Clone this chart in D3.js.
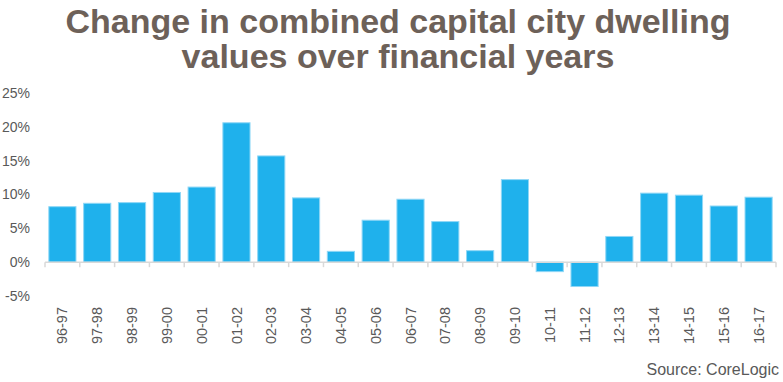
<!DOCTYPE html>
<html>
<head>
<meta charset="utf-8">
<script src="https://cdn.jsdelivr.net/npm/d3@7"></script>
<style>
  body { margin: 0; background: #fff; }
  svg { display: block; font-family: "Liberation Sans", Arial, sans-serif; }
</style>
</head>
<body>
<svg id="chart" width="783" height="382"></svg>
<script>
// financial years and annual change (%) in combined capital city dwelling values
const years = ["96-97", "97-98", "98-99", "99-00", "00-01", "01-02", "02-03", "03-04",
  "04-05", "05-06", "06-07", "07-08", "08-09", "09-10", "10-11", "11-12",
  "12-13", "13-14", "14-15", "15-16", "16-17"];
const changes = [8.2, 8.7, 8.8, 10.3, 11.1, 20.6, 15.7, 9.5,
  1.6, 6.2, 9.3, 6.0, 1.7, 12.2, -1.4, -3.6,
  3.8, 10.2, 9.9, 8.3, 9.6];
const yTicks = [-5, 0, 5, 10, 15, 20, 25];
const titleLines = ["Change in combined capital city dwelling", "values over financial years"];

const svg = d3.select("#chart");

// scales
let x = d3.scaleBand().domain(years).range([45, 776]).paddingInner(0.22).paddingOuter(0.11);
let y = d3.scaleLinear().domain([-5, 25]).range([296, 93]);

// title
svg.append("g").selectAll("text").data(titleLines).enter().append("text")
  .attr("x", 398)
  .attr("y", (d, i) => 33 + i * 35)
  .attr("text-anchor", "middle")
  .style("font-size", "34px")
  .style("font-weight", "bold")
  .style("fill", "#6d6159")
  .text(d => d);

// y axis labels only, no line
let yAxis = d3.axisLeft(y).tickValues(yTicks).tickSize(0).tickPadding(0)
  .tickFormat(d => d + "%");
let yG = svg.append("g").attr("transform", "translate(30,0)").call(yAxis);
yG.select(".domain").remove();
yG.selectAll("text").style("font-size", "14px").style("fill", "#595959")
  .style("font-family", "'Liberation Sans', Arial, sans-serif");

// bars
svg.append("g").selectAll("rect").data(changes).enter().append("rect")
  .attr("x", (d, i) => x(years[i]))
  .attr("width", x.bandwidth())
  .attr("y", d => y(Math.max(0, d)))
  .attr("height", d => Math.abs(y(d) - y(0)))
  .attr("fill", "#1fb1ec")
  .attr("stroke", "#8fd7f6")
  .attr("stroke-width", 1);

// category axis at zero, ticks at band boundaries
let step = x.step();
let zero = y(0);
let axisG = svg.append("g");
axisG.append("line")
  .attr("x1", 45).attr("x2", 776)
  .attr("y1", zero).attr("y2", zero)
  .attr("stroke", "#d9d9d9").attr("stroke-width", 1.5);
let bounds = d3.range(years.length + 1).map(i => 45 + i * step);
axisG.selectAll(".tk").data(bounds).enter().append("line")
  .attr("class", "tk")
  .attr("x1", d => d).attr("x2", d => d)
  .attr("y1", zero).attr("y2", zero + 5)
  .attr("stroke", "#d9d9d9").attr("stroke-width", 1.5);

// rotated category labels below plot
svg.append("g").selectAll("text").data(years).enter().append("text")
  .attr("transform", d => "translate(" + (x(d) + x.bandwidth() / 2) + ",307) rotate(-90)")
  .attr("text-anchor", "end")
  .attr("dy", "0.35em")
  .style("font-size", "14.5px")
  .style("fill", "#595959")
  .text(d => d);

// source note
svg.append("text")
  .attr("x", 779).attr("y", 375)
  .attr("text-anchor", "end")
  .style("font-size", "16px")
  .style("fill", "#595959")
  .text("Source: CoreLogic");
</script>
</body>
</html>
